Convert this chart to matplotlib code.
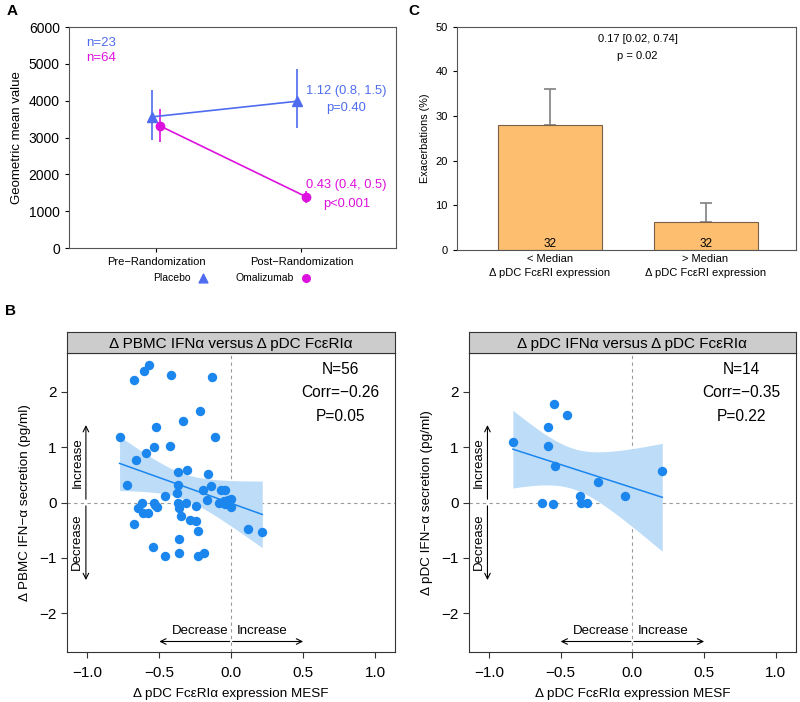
import numpy as np
import matplotlib
matplotlib.use("Agg")
import matplotlib.pyplot as plt

plt.rcParams['font.family'] = ['Liberation Sans', 'DejaVu Sans']
plt.rcParams['axes.unicode_minus'] = True

# ---- panel A data
timepoints = ["Pre\u2212Randomization", "Post\u2212Randomization"]
placebo_mean = [3560, 3985]
placebo_lo = [2930, 3265]
placebo_hi = [4285, 4870]
omal_mean = [3310, 1395]
omal_lo = [2885, 1215]
omal_hi = [3770, 1540]

# ---- panel C data
groups = ["< Median\n\u0394 pDC Fc\u03b5RI expression", "> Median\n\u0394 pDC Fc\u03b5RI expression"]
exac_pct = [28.1, 6.2]
exac_err = [8.0, 4.4]
group_n = [32, 32]

# ---- panel B data (left: PBMC, right: pDC)
pbmc_x = [-0.776, -0.723, -0.679, -0.665, -0.679, -0.649, -0.621, -0.607, -0.591, -0.614,
          -0.579, -0.572, -0.540, -0.524, -0.538, -0.514, -0.545, -0.459, -0.457, -0.417,
          -0.422, -0.371, -0.371, -0.378, -0.371, -0.360, -0.352, -0.360, -0.364, -0.336,
          -0.308, -0.313, -0.283, -0.248, -0.243, -0.232, -0.232, -0.190, -0.216, -0.197,
          -0.167, -0.162, -0.139, -0.134, -0.116, -0.088, -0.070, -0.042, -0.053, -0.023,
          0.000, 0.000, -0.042, 0.116, 0.216, -0.530]
pbmc_y = [1.18, 0.31, 2.22, 0.76, -0.39, -0.10, 0.00, 2.37, 0.89, -0.19,
          -0.19, 2.48, 1.00, 1.36, 0.00, -0.08, -0.81, 0.11, -0.97, 2.31,
          1.03, 0.56, 0.32, 0.18, 0.00, -0.10, -0.25, -0.66, -0.92, 1.47,
          0.59, 0.00, -0.31, -0.34, -0.07, -0.52, -0.97, -0.91, 1.66, 0.23,
          0.05, 0.52, 0.30, 2.27, 1.19, 0.00, 0.23, 0.23, 0.02, 0.05,
          0.06, -0.08, -0.02, -0.48, -0.54, -0.04]
pdc_x = [-0.833, -0.590, -0.586, -0.544, -0.456, -0.539, -0.630, -0.551, -0.363, -0.359,
         -0.317, -0.238, -0.053, 0.208]
pdc_y = [1.10, 1.36, 1.03, 1.78, 1.58, 0.66, 0.00, -0.03, 0.11, 0.00,
         0.00, 0.37, 0.12, 0.57]

blue_a = '#4f6cf0'
mag_a = '#dd11dd'
pt_col = '#1a86ee'
band_col = '#bcdcf8'

fig = plt.figure(figsize=(8, 7.02), dpi=100)

# ================= Panel A
axA = fig.add_axes([0.086, 0.6467, 0.409, 0.3148])
xs = np.arange(1, 3)
dodge = 0.03
axA.errorbar(xs - dodge, placebo_mean,
             yerr=[np.subtract(placebo_mean, placebo_lo), np.subtract(placebo_hi, placebo_mean)],
             color=blue_a, marker='^', ms=7, lw=1.2, elinewidth=1.2, capsize=0)
axA.errorbar(xs + dodge, omal_mean,
             yerr=[np.subtract(omal_mean, omal_lo), np.subtract(omal_hi, omal_mean)],
             color=mag_a, marker='o', ms=6, lw=1.2, elinewidth=1.2, capsize=0)
axA.set_xlim(0.4, 2.65)
axA.set_ylim(0, 6000)
axA.set_yticks(range(0, 6001, 1000))
axA.set_xticks(xs)
axA.set_xticklabels(timepoints, fontsize=8)
axA.tick_params(axis='y', labelsize=10, length=3)
axA.tick_params(axis='x', length=3)
axA.set_ylabel("Geometric mean value", fontsize=9.5)
for s in axA.spines.values():
    s.set_color('#555555')
axA.text(0.517, 5566, "n=23", color=blue_a, fontsize=9.5, va='center')
axA.text(0.517, 5158, "n=64", color=mag_a, fontsize=9.5, va='center')
axA.text(2.31, 4262, "1.12 (0.8, 1.5)", color=blue_a, fontsize=9.3, ha='center', va='center')
axA.text(2.31, 3801, "p=0.40", color=blue_a, fontsize=9.3, ha='center', va='center')
axA.text(2.31, 1710, "0.43 (0.4, 0.5)", color=mag_a, fontsize=9.3, ha='center', va='center')
axA.text(2.31, 1195, "p<0.001", color=mag_a, fontsize=9.3, ha='center', va='center')
hp = axA.scatter([], [], marker='^', color=blue_a, s=40)
ho = axA.scatter([], [], marker='o', color=mag_a, s=30)
axA.legend([hp, ho], ["Placebo", "Omalizumab"], loc='center', bbox_to_anchor=(0.5, -0.135),
           ncol=2, frameon=False, markerfirst=False, fontsize=7.5, columnspacing=2.5,
           handletextpad=0.6, handlelength=1.2)

# ================= Panel C
axC = fig.add_axes([0.571, 0.644, 0.424, 0.3177])
bx = np.arange(1, 3)
axC.bar(bx, exac_pct, width=0.667, color='#fdbf6f', edgecolor='#7a6048', lw=0.8, zorder=2)
axC.errorbar(bx, exac_pct, yerr=[np.zeros(2), exac_err], fmt='none', ecolor='#808080',
             elinewidth=1.2, capsize=4, capthick=1.2, zorder=1)
for x, n in zip(bx, group_n):
    axC.text(x, 1.4, str(n), ha='center', va='center', fontsize=8.5)
axC.set_xlim(0.405, 2.58)
axC.set_ylim(0, 50)
axC.set_xticks(bx)
axC.set_xticklabels(groups, fontsize=8, linespacing=1.55)
axC.tick_params(axis='x', length=0, pad=3)
axC.tick_params(axis='y', labelsize=8, length=3)
axC.set_ylabel("Exacerbations (%)", fontsize=7.8)
for s in axC.spines.values():
    s.set_color('#555555')
axC.text(1.565, 47.3, "0.17 [0.02, 0.74]", ha='center', va='center', fontsize=8)
axC.text(1.565, 43.5, "p = 0.02", ha='center', va='center', fontsize=8)


# ================= Panel B
def fit_band(x, y, tcrit):
    x = np.asarray(x)
    y = np.asarray(y)
    n = len(x)
    b, a = np.polyfit(x, y, 1)
    resid = y - (a + b * x)
    s = np.sqrt(np.sum(resid ** 2) / (n - 2))
    xg = np.linspace(x.min(), x.max(), 100)
    se = s * np.sqrt(1 / n + (xg - x.mean()) ** 2 / np.sum((x - x.mean()) ** 2))
    yg = a + b * xg
    return xg, yg, yg - tcrit * se, yg + tcrit * se


def scatter_panel(rect, x, y, tcrit, title, ylabel, stats):
    ax = fig.add_axes(rect)
    sx = fig.add_axes([rect[0], rect[1] + rect[3], rect[2], 0.0299])
    sx.set_facecolor('#cccccc')
    sx.set_xticks([])
    sx.set_yticks([])
    sx.text(0.5, 0.45, title, ha='center', va='center', fontsize=11, transform=sx.transAxes)
    for s in sx.spines.values():
        s.set_color('#333333')

    xg, yg, lo, hi = fit_band(x, y, tcrit)
    ax.fill_between(xg, lo, hi, color=band_col, lw=0, zorder=1)
    ax.plot(xg, yg, color=pt_col, lw=1.1, zorder=2)
    ax.scatter(x, y, s=46, color=pt_col, lw=0, zorder=3)
    ax.axhline(0, color='#999999', ls=(0, (3, 3)), lw=0.8, zorder=0)
    ax.axvline(0, color='#999999', ls=(0, (3, 3)), lw=0.8, zorder=0)

    ax.set_xlim(-1.14, 1.14)
    ax.set_ylim(-2.7, 2.7)
    ax.set_xticks([-1.0, -0.5, 0.0, 0.5, 1.0])
    ax.set_xticklabels(["\u22121.0", "\u22120.5", "0.0", "0.5", "1.0"])
    ax.set_yticks([-2, -1, 0, 1, 2])
    ax.tick_params(labelsize=11, length=4, color='#333333')
    ax.tick_params(axis='x', pad=6)
    for s in ax.spines.values():
        s.set_color('#333333')
    ax.set_xlabel("\u0394 pDC Fc\u03b5RI\u03b1 expression MESF", fontsize=9.7, labelpad=6)
    ax.set_ylabel(ylabel, fontsize=9.7, labelpad=6)

    for i, t in enumerate(stats):
        ax.text(0.76, 2.40 - 0.42 * i, t, ha='center', va='center', fontsize=11.2)

    ap = dict(arrowstyle='->', color='black', lw=0.8, shrinkA=0, shrinkB=0)
    ax.annotate("", xy=(-1.01, 1.4), xytext=(-1.01, 0.06), arrowprops=ap)
    ax.annotate("", xy=(-1.01, -1.4), xytext=(-1.01, -0.06), arrowprops=ap)
    ax.text(-1.07, 0.72, "Increase", rotation=90, ha='center', va='center', fontsize=9.5)
    ax.text(-1.07, -0.7, "Decrease", rotation=90, ha='center', va='center', fontsize=9.5)
    ax.annotate("", xy=(-0.5, -2.51), xytext=(-0.01, -2.51), arrowprops=ap)
    ax.annotate("", xy=(0.5, -2.51), xytext=(0.01, -2.51), arrowprops=ap)
    ax.text(-0.02, -2.32, "Decrease", ha='right', va='center', fontsize=9.5)
    ax.text(0.04, -2.32, "Increase", ha='left', va='center', fontsize=9.5)
    return ax


scatter_panel([0.084, 0.0712, 0.41, 0.4258], pbmc_x, pbmc_y, 2.005,
              "\u0394 PBMC IFN\u03b1 versus \u0394 pDC Fc\u03b5RI\u03b1",
              "\u0394 PBMC IFN\u2212\u03b1 secretion (pg/ml)",
              ["N=56", "Corr=\u22120.26", "P=0.05"])
scatter_panel([0.586, 0.0712, 0.409, 0.4258], pdc_x, pdc_y, 2.179,
              "\u0394 pDC IFN\u03b1 versus \u0394 pDC Fc\u03b5RI\u03b1",
              "\u0394 pDC IFN\u2212\u03b1 secretion (pg/ml)",
              ["N=14", "Corr=\u22120.35", "P=0.22"])

fig.text(0.008, 0.985, "A", fontsize=11, fontweight='bold', va='center')
fig.text(0.51, 0.985, "C", fontsize=11, fontweight='bold', va='center')
fig.text(0.006, 0.557, "B", fontsize=11, fontweight='bold', va='center')

fig.savefig("out.png", dpi=100)
